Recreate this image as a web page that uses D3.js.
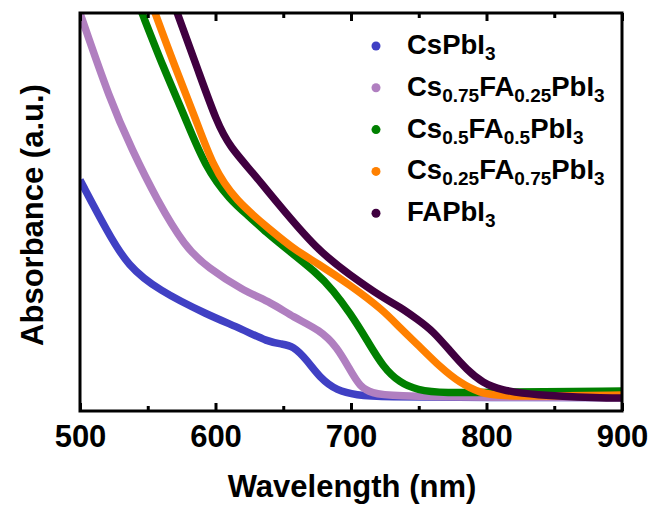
<!DOCTYPE html>
<html>
<head>
<meta charset="utf-8">
<script src="https://cdn.jsdelivr.net/npm/d3@7"></script>
<style>
  body { margin: 0; background: #fff; }
  text { font-family: "Liberation Sans", Arial, sans-serif; font-weight: bold; }
</style>
</head>
<body>
<svg id="chart" width="652" height="505"></svg>
<script>
// wavelength (nm) / absorbance (a.u.)
var csWl  = [500, 520.7, 535.4, 557.6, 594.5, 619.6, 638.7, 649, 657.2, 667.5, 677.1, 689.7, 704.4, 721, 800, 900];
var csAbs = [1.161, 0.894, 0.729, 0.608, 0.482, 0.412, 0.347, 0.337, 0.327, 0.256, 0.166, 0.101, 0.080, 0.070, 0.068, 0.068];

var cs75Wl  = [500, 522.1, 538.4, 556.8, 577.5, 594.5, 619.6, 641.7, 657.2, 677.1, 689.7, 699.3, 706.6, 715.5, 728.8, 800, 900];
var cs75Abs = [2.0, 1.563, 1.312, 1.060, 0.824, 0.719, 0.608, 0.543, 0.472, 0.407, 0.322, 0.206, 0.121, 0.090, 0.075, 0.068, 0.068];

var cs50Wl  = [536.2, 545.8, 561.3, 577.5, 592.3, 610.7, 625.5, 638, 649.8, 674.9, 686.7, 699.3, 711.8, 723.6, 736.2, 748.7, 767.9, 810, 900];
var cs50Abs = [2.166, 2.0, 1.729, 1.477, 1.226, 1.060, 0.975, 0.894, 0.829, 0.693, 0.608, 0.492, 0.357, 0.221, 0.141, 0.106, 0.090, 0.095, 0.100];

var cs25Wl  = [546.5, 555.4, 570.1, 584.9, 598.2, 614.4, 642.4, 658.7, 674.9, 699.3, 723.6, 736.2, 751, 765.7, 780.4, 795.2, 810, 847, 900];
var cs25Abs = [2.166, 2.0, 1.729, 1.477, 1.226, 1.060, 0.899, 0.809, 0.744, 0.633, 0.508, 0.417, 0.322, 0.221, 0.141, 0.090, 0.075, 0.075, 0.080];

var faWl  = [563.5, 571.6, 586.3, 601.1, 610.7, 627.7, 643.9, 674.9, 699.3, 723.6, 736.2, 748.7, 760.5, 773.1, 785.6, 797.4, 810, 834.3, 883.8, 900];
var faAbs = [2.166, 2.0, 1.729, 1.447, 1.327, 1.196, 1.060, 0.809, 0.683, 0.568, 0.523, 0.462, 0.402, 0.302, 0.206, 0.141, 0.106, 0.080, 0.065, 0.065];

var names  = ["CsPbI_3", "Cs_0.75FA_0.25PbI_3", "Cs_0.5FA_0.5PbI_3", "Cs_0.25FA_0.75PbI_3", "FAPbI_3"];
var colors = ["#4040c4", "#b07fc0", "#008000", "#ff8000", "#400040"];
var majorTicks = [500, 600, 700, 800, 900];
var minorTicks = [550, 650, 750, 850];

var series = [[csWl, csAbs], [cs75Wl, cs75Abs], [cs50Wl, cs50Abs], [cs25Wl, cs25Abs], [faWl, faAbs]];

var svg = d3.select("#chart");
var pLeft = 80, pRight = 622, pTop = 13, pBottom = 411;

var x = d3.scaleLinear().domain([500, 900]).range([pLeft, pRight]);
var y = d3.scaleLinear().domain([0, 2]).range([pBottom, pTop]);

svg.append("clipPath").attr("id", "plotclip")
  .append("rect")
  .attr("x", pLeft).attr("y", pTop)
  .attr("width", pRight - pLeft).attr("height", pBottom - pTop);

var line = d3.line()
  .x(function(d) { return x(d[0]); })
  .y(function(d) { return y(d[1]); })
  .curve(d3.curveBasis);

var g = svg.append("g").attr("clip-path", "url(#plotclip)");
series.forEach(function(s, i) {
  var pts = s[0].map(function(w, j) { return [w, s[1][j]]; });
  g.append("path")
    .datum(pts)
    .attr("d", line)
    .attr("fill", "none")
    .attr("stroke", colors[i])
    .attr("stroke-width", 7.5)
    .attr("stroke-linejoin", "round");
});

// frame
svg.append("rect")
  .attr("x", pLeft).attr("y", pTop)
  .attr("width", pRight - pLeft).attr("height", pBottom - pTop)
  .attr("fill", "none").attr("stroke", "#000").attr("stroke-width", 3);

function styleAxis(sel) {
  sel.select(".domain").remove();
  sel.selectAll(".tick line").attr("stroke", "#000").attr("stroke-width", 3);
}

var xAxis = svg.append("g")
  .attr("transform", "translate(0," + pBottom + ")")
  .call(d3.axisBottom(x).tickValues(majorTicks).tickSize(-8).tickPadding(14).tickFormat(d3.format("d")));
styleAxis(xAxis);
xAxis.selectAll("text").attr("font-size", 31).attr("fill", "#000")
  .style("font-family", "'Liberation Sans', Arial, sans-serif").style("font-weight", "bold");

var xMinor = svg.append("g")
  .attr("transform", "translate(0," + pBottom + ")")
  .call(d3.axisBottom(x).tickValues(minorTicks).tickSize(-5).tickFormat(""));
styleAxis(xMinor);

var topAxis = svg.append("g")
  .attr("transform", "translate(0," + pTop + ")")
  .call(d3.axisTop(x).tickValues(majorTicks).tickSize(-8).tickFormat(""));
styleAxis(topAxis);

var topMinor = svg.append("g")
  .attr("transform", "translate(0," + pTop + ")")
  .call(d3.axisTop(x).tickValues(minorTicks).tickSize(-5).tickFormat(""));
styleAxis(topMinor);

svg.append("text")
  .attr("x", 352).attr("y", 497)
  .attr("text-anchor", "middle")
  .attr("font-size", 31)
  .text("Wavelength (nm)");

svg.append("text")
  .attr("transform", "translate(43,215) rotate(-90)")
  .attr("text-anchor", "middle")
  .attr("font-size", 31)
  .text("Absorbance (a.u.)");

// legend
var legend = svg.append("g");
names.forEach(function(name, i) {
  var cy = 46 + i * 41.8;
  legend.append("circle")
    .attr("cx", 376).attr("cy", cy).attr("r", 4.5)
    .attr("fill", colors[i]);
  var t = legend.append("text")
    .attr("x", 407).attr("y", cy + 8)
    .attr("font-size", 27.5);
  var parts = name.split(/_([0-9.]+)/);
  parts.forEach(function(p, k) {
    if (p === "") return;
    if (k % 2 === 1) {
      t.append("tspan").attr("dy", 6).attr("font-size", 19).text(p);
    } else {
      t.append("tspan").attr("dy", k > 0 ? -6 : 0).text(p);
    }
  });
});
</script>
</body>
</html>
